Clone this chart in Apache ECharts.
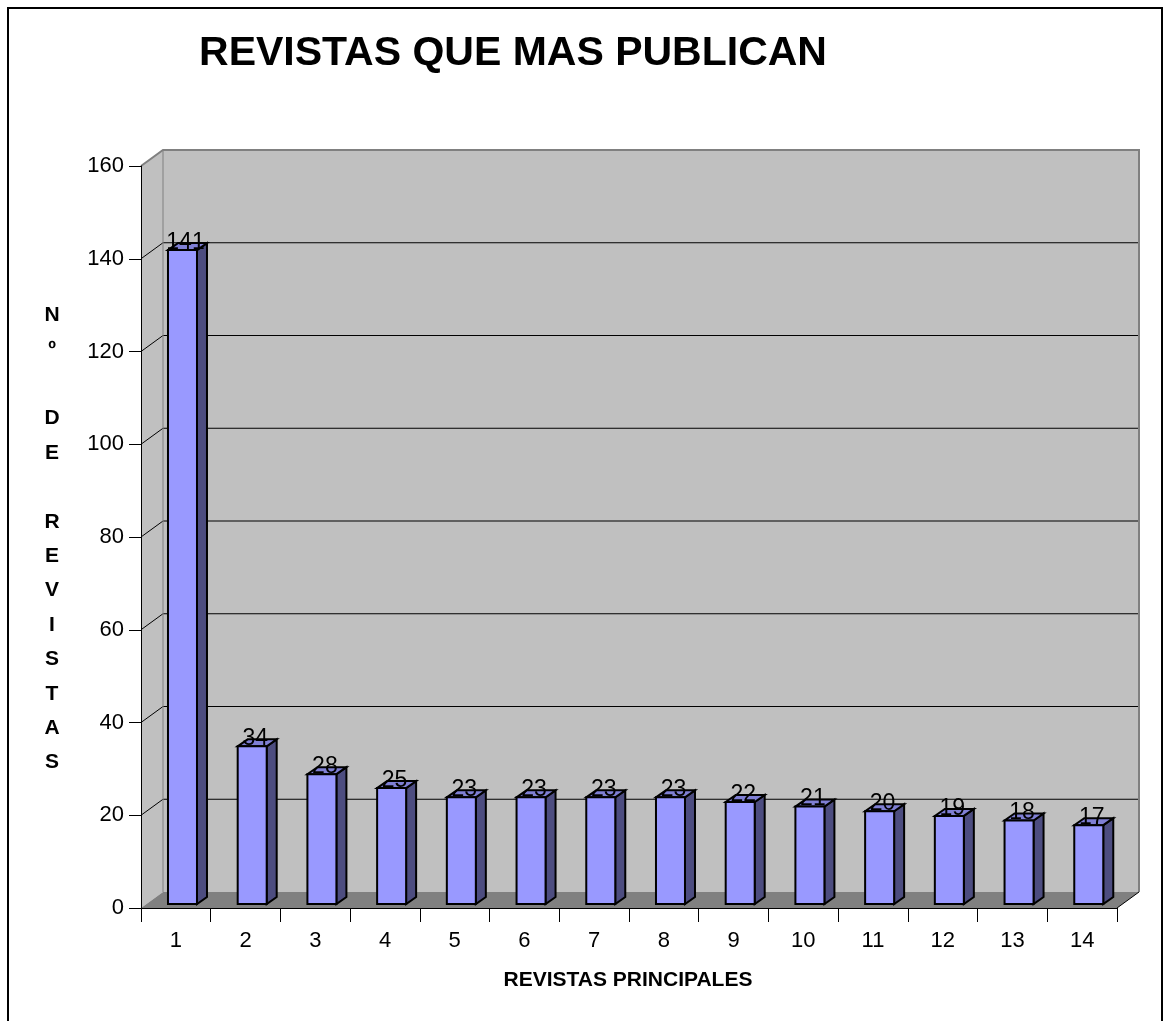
<!DOCTYPE html>
<html>
<head>
<meta charset="utf-8">
<script src="https://cdn.jsdelivr.net/npm/echarts@6/dist/echarts.min.js"></script>
<style>
html,body{margin:0;padding:0;background:#fff;}
#chart{width:1167px;height:1021px;}
</style>
</head>
<body>
<div id="chart"></div>
<script>
const categories = ['1','2','3','4','5','6','7','8','9','10','11','12','13','14'];
const values = [141,34,28,25,23,23,23,23,22,21,20,19,18,17];
const yTicks = [0,20,40,60,80,100,120,140,160];
const titleText = 'REVISTAS QUE MAS PUBLICAN';
const xName = 'REVISTAS PRINCIPALES';
const yName = 'N\nº\n\nD\nE\n\nR\nE\nV\nI\nS\nT\nA\nS';

const FONT = '"Liberation Sans", Arial, sans-serif';
const WALL_DX = 22, WALL_DY = -16;

const chart = echarts.init(document.getElementById('chart'));

function renderWalls(params, api) {
  const cs = params.coordSys;
  const L = cs.x, R = cs.x + cs.width, T = cs.y, B = cs.y + cs.height;
  const dx = WALL_DX, dy = WALL_DY;
  const ch = [];
  ch.push({type:'polygon', shape:{points:[[L,B],[L,T],[L+dx,T+dy],[L+dx,B+dy]]}, style:{fill:'#C0C0C0'}});
  ch.push({type:'polygon', shape:{points:[[L+dx,T+dy],[R+dx,T+dy],[R+dx,B+dy],[L+dx,B+dy]]}, style:{fill:'#C0C0C0'}});
  ch.push({type:'polygon', shape:{points:[[L,B],[L+dx,B+dy],[R+dx,B+dy],[R,B]]}, style:{fill:'#808080'}});
  yTicks.forEach(function(v){
    if (v === yTicks[0] || v === yTicks[yTicks.length-1]) return;
    const y = api.coord([0, v])[1];
    ch.push({type:'line', shape:{x1:L, y1:y, x2:L+dx, y2:y+dy}, style:{stroke:'#000', lineWidth:1}});
    ch.push({type:'line', shape:{x1:L+dx, y1:y+dy, x2:R+dx, y2:y+dy}, style:{stroke:'#000', lineWidth:1}});
  });
  ch.push({type:'polyline', shape:{points:[[L,T],[L+dx,T+dy],[R+dx,T+dy],[R+dx,B+dy]]}, style:{stroke:'#808080', lineWidth:2, fill:null}});
  ch.push({type:'line', shape:{x1:L+dx, y1:T+dy, x2:L+dx, y2:B+dy}, style:{stroke:'#808080', lineWidth:1}});
  ch.push({type:'line', shape:{x1:R, y1:B, x2:R+dx, y2:B+dy}, style:{stroke:'#000', lineWidth:1}});
  return {type:'group', children:ch};
}

function renderBar(params, api) {
  const idx = api.value(0);
  const val = api.value(1);
  const top = api.coord([idx, val]);
  const base = api.coord([idx, 0]);
  const bw = api.size([1, 0])[0];
  const catStart = top[0] - bw / 2;
  const fl = catStart + bw * 0.387;
  const fw = bw * 0.416;
  const fr = fl + fw;
  const off = 4;
  const yb = base[1] - off;
  const yt = top[1] - off;
  const ddx = 10, ddy = -7;
  const stroke = {stroke:'#000', lineWidth:2, lineJoin:'miter'};
  return {
    type:'group',
    children:[
      {type:'polygon', shape:{points:[[fr,yb],[fr,yt],[fr+ddx,yt+ddy],[fr+ddx,yb+ddy]]}, style:Object.assign({fill:'#4D4D80'}, stroke)},
      {type:'polygon', shape:{points:[[fl,yt],[fr,yt],[fr+ddx,yt+ddy],[fl+ddx,yt+ddy]]}, style:Object.assign({fill:'#7F7FD4'}, stroke)},
      {type:'rect', shape:{x:fl, y:yt, width:fw, height:yb-yt}, style:Object.assign({fill:'#9999FF'}, stroke)},
      {type:'text', style:{text:String(val), x:(fl+fr)/2 + 3, y:yt + 4, align:'center', verticalAlign:'bottom', font:'23px ' + FONT, fill:'#000'}}
    ]
  };
}

chart.setOption({
  backgroundColor:'#fff',
  animation:false,
  grid:{left:141, top:166, width:976, height:742},
  xAxis:{
    type:'category',
    data:categories,
    boundaryGap:true,
    axisLine:{show:true, lineStyle:{color:'#000', width:1}},
    axisTick:{show:true, length:14, alignWithLabel:false, lineStyle:{color:'#000'}},
    axisLabel:{color:'#000', fontSize:22, fontFamily:FONT, margin:22},
    splitLine:{show:false}
  },
  yAxis:{
    type:'value',
    min:yTicks[0], max:yTicks[yTicks.length-1], interval:20,
    axisLine:{show:true, lineStyle:{color:'#000', width:1}},
    axisTick:{show:true, length:12, lineStyle:{color:'#000'}},
    axisLabel:{color:'#000', fontSize:22, fontFamily:FONT, margin:17},
    splitLine:{show:false}
  },
  series:[
    {type:'custom', z:-1, clip:false, silent:true, renderItem:renderWalls, data:[[0,0]]},
    {type:'custom', z:3, clip:false, renderItem:renderBar, data:values.map(function(v,i){return [i,v];})}
  ],
  graphic:[
    {type:'rect', shape:{x:8, y:8, width:1154, height:1040}, style:{fill:null, stroke:'#000', lineWidth:2}, z:100},
    {type:'text', style:{text:titleText, x:513, y:54, align:'center', verticalAlign:'middle', font:'bold 41px ' + FONT, fill:'#000'}},
    {type:'text', style:{text:xName, x:628, y:980, align:'center', verticalAlign:'middle', font:'bold 21px ' + FONT, fill:'#000'}},
    {type:'text', style:{text:yName, x:52, y:539, align:'center', verticalAlign:'middle', font:'bold 21px ' + FONT, lineHeight:34.4, fill:'#000'}}
  ]
});
</script>
</body>
</html>
